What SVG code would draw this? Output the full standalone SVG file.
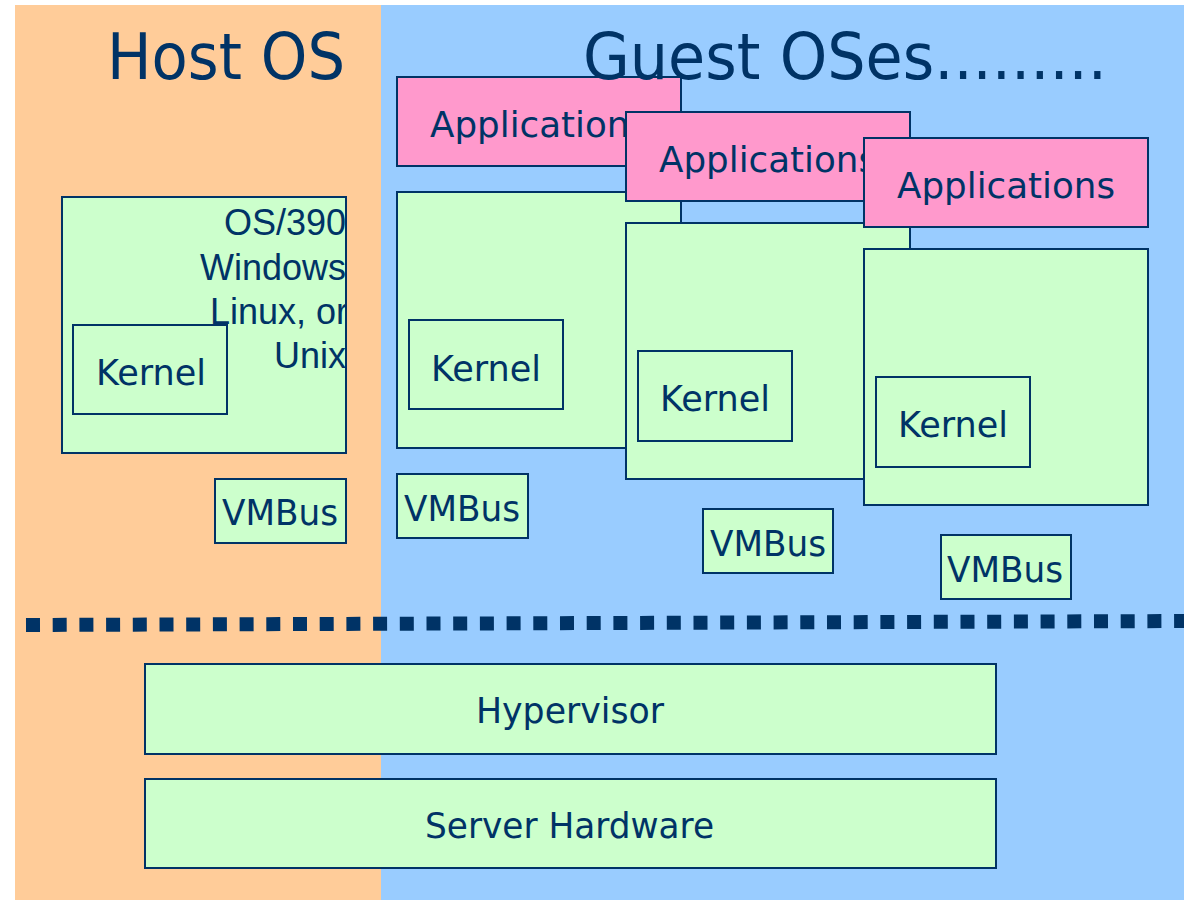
<svg xmlns="http://www.w3.org/2000/svg" width="1184" height="900" viewBox="0 0 1184 900">
<style>
.box{stroke:#003366;stroke-width:2}
.g{fill:#CCFFCC}
.p{fill:#FF99CC}
.t{font-family:"DejaVu Sans",Verdana,sans-serif;font-size:36px;fill:#003366}
.title{font-family:"DejaVu Sans",Verdana,sans-serif;font-size:64px;fill:#003366}
.os{font-family:"Liberation Sans",Arial,sans-serif;font-size:36px;fill:#003366;text-anchor:end}
</style>
<defs>
<clipPath id="hostclip"><rect x="63" y="198" width="282" height="254"/></clipPath>
</defs>
<rect width="1184" height="900" fill="#FFFFFF"/>
<rect x="15" y="5" width="366" height="895" fill="#FFCC99"/>
<rect x="381" y="5" width="803" height="895" fill="#99CCFF"/>

<g id="host-os">
<rect class="box g" x="62" y="197" width="284" height="256"/>
<g clip-path="url(#hostclip)">
<text class="os" x="346" y="235">OS/390</text>
<text class="os" x="346" y="280">Windows</text>
<text class="os" x="348" y="324">Linux, or</text>
<text class="os" x="346" y="368">Unix</text>
</g>
</g>
<g id="host-kernel">
<rect class="box g" x="73" y="325" width="154" height="89"/>
<text class="t" x="96" y="385" textLength="110" lengthAdjust="spacingAndGlyphs">Kernel</text>
</g>
<g id="host-vmbus">
<rect class="box g" x="215" y="479" width="131" height="64"/>
<text class="t" x="222" y="525" textLength="116" lengthAdjust="spacingAndGlyphs">VMBus</text>
</g>

<g id="app1">
<rect class="box p" x="397" y="77" width="284" height="89"/>
<text class="t" x="430" y="137" textLength="218" lengthAdjust="spacingAndGlyphs">Applications</text>
</g>
<g id="guest1">
<rect class="box g" x="397" y="192" width="284" height="256"/>
</g>
<g id="kernel1">
<rect class="box g" x="409" y="320" width="154" height="89"/>
<text class="t" x="431" y="381" textLength="110" lengthAdjust="spacingAndGlyphs">Kernel</text>
</g>
<g id="vmbus1">
<rect class="box g" x="397" y="474" width="131" height="64"/>
<text class="t" x="404" y="521" textLength="116" lengthAdjust="spacingAndGlyphs">VMBus</text>
</g>

<g id="app2">
<rect class="box p" x="626" y="112" width="284" height="89"/>
<text class="t" x="659" y="172" textLength="218" lengthAdjust="spacingAndGlyphs">Applications</text>
</g>
<g id="guest2">
<rect class="box g" x="626" y="223" width="284" height="256"/>
</g>
<g id="kernel2">
<rect class="box g" x="638" y="351" width="154" height="90"/>
<text class="t" x="660" y="411" textLength="110" lengthAdjust="spacingAndGlyphs">Kernel</text>
</g>
<g id="vmbus2">
<rect class="box g" x="703" y="509" width="130" height="64"/>
<text class="t" x="710" y="556" textLength="116" lengthAdjust="spacingAndGlyphs">VMBus</text>
</g>

<g id="app3">
<rect class="box p" x="864" y="138" width="284" height="89"/>
<text class="t" x="897" y="198" textLength="218" lengthAdjust="spacingAndGlyphs">Applications</text>
</g>
<g id="guest3">
<rect class="box g" x="864" y="249" width="284" height="256"/>
</g>
<g id="kernel3">
<rect class="box g" x="876" y="377" width="154" height="90"/>
<text class="t" x="898" y="437" textLength="110" lengthAdjust="spacingAndGlyphs">Kernel</text>
</g>
<g id="vmbus3">
<rect class="box g" x="941" y="535" width="130" height="64"/>
<text class="t" x="947" y="582" textLength="116" lengthAdjust="spacingAndGlyphs">VMBus</text>
</g>

<g id="connectors">
<line x1="26" y1="625" x2="1184" y2="621" stroke="#003366" stroke-width="14" stroke-dasharray="14 12.7"/>
</g>

<g id="hypervisor">
<rect class="box g" x="145" y="664" width="851" height="90"/>
<text class="t" x="476" y="723" textLength="188" lengthAdjust="spacingAndGlyphs">Hypervisor</text>
</g>
<g id="hardware">
<rect class="box g" x="145" y="779" width="851" height="89"/>
<text class="t" x="425" y="838" textLength="289" lengthAdjust="spacingAndGlyphs">Server Hardware</text>
</g>

<g id="titles">
<text class="title" x="107" y="79" textLength="238" lengthAdjust="spacingAndGlyphs">Host OS</text>
<text class="title" x="583" y="79" textLength="524" lengthAdjust="spacingAndGlyphs">Guest OSes.........</text>
</g>
</svg>
